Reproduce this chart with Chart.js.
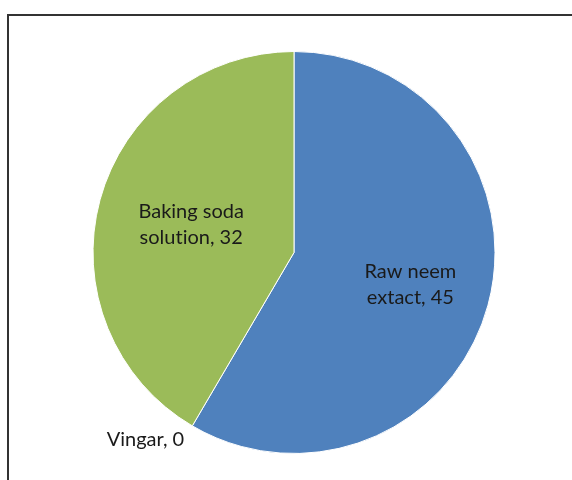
<!DOCTYPE html>
<html>
<head>
<meta charset="utf-8">
<script src="https://cdn.jsdelivr.net/npm/chart.js@4.4.0/dist/chart.umd.min.js"></script>
<style>
  html, body { margin: 0; padding: 0; background: #fff; }
  #wrap { position: relative; width: 572px; height: 480px; overflow: hidden; }
  #frame {
    position: absolute; left: 7px; top: 14px; width: 600px; height: 500px;
    border-left: 2px solid #333; border-top: 2px solid #333;
  }
  canvas { position: absolute; left: 0; top: 0; }
</style>
</head>
<body>
<div id="wrap">
  <div id="frame"></div>
  <canvas id="pieChart" width="572" height="480"></canvas>
</div>
<script>
// slices in drawing order (clockwise from 12 o'clock)
const labels = [['Raw neem', 'extact'], ['Vingar'], ['Baking soda', 'solution']];
const values = [45, 0, 32];
const colors = ['#4F81BD', '#C0504D', '#9BBB59'];
// how far from the centre each label sits (fraction of radius); null = outside
const labelRadius = [0.6, null, 0.53];

const labelFont = '20px Lato, "Open Sans", sans-serif';

const sliceLabels = {
  id: 'sliceLabels',
  afterDatasetsDraw(chart) {
    const ctx = chart.ctx;
    const arcs = chart.getDatasetMeta(0).data;
    ctx.save();
    ctx.font = labelFont;
    ctx.textRendering = 'optimizeSpeed'; // no "ti" ligature
    ctx.fillStyle = '#1a1a1a';
    ctx.textBaseline = 'middle';
    arcs.forEach((arc, i) => {
      const lines = labels[i].slice();
      lines[lines.length - 1] += ', ' + values[i];
      const mid = (arc.startAngle + arc.endAngle) / 2;
      const lh = 26;
      if (labelRadius[i] === null) {
        // empty slice: put the label just past the rim
        const r = arc.outerRadius + 16;
        const x = arc.x + Math.cos(mid) * r;
        const y = arc.y + Math.sin(mid) * r;
        ctx.textAlign = Math.cos(mid) < 0 ? 'right' : 'left';
        ctx.fillText(lines.join(' '), x, y);
        return;
      }
      const r = arc.outerRadius * labelRadius[i];
      const x = arc.x + Math.cos(mid) * r;
      const y = arc.y + Math.sin(mid) * r;
      ctx.textAlign = 'center';
      lines.forEach((t, k) => {
        ctx.fillText(t, x, y + (k - (lines.length - 1) / 2) * lh);
      });
    });
    ctx.restore();
  }
};

new Chart(document.getElementById('pieChart'), {
  type: 'pie',
  data: {
    labels: labels.map(l => l.join(' ')),
    datasets: [{
      data: values,
      backgroundColor: colors,
      borderColor: '#ffffff',
      borderWidth: 1,
      hoverOffset: 0
    }]
  },
  options: {
    responsive: false,
    animation: false,
    layout: { padding: { left: 91, right: 75, top: 51, bottom: 26 } },
    plugins: {
      legend: { display: false },
      tooltip: { enabled: false }
    }
  },
  plugins: [sliceLabels]
});
</script>
</body>
</html>
